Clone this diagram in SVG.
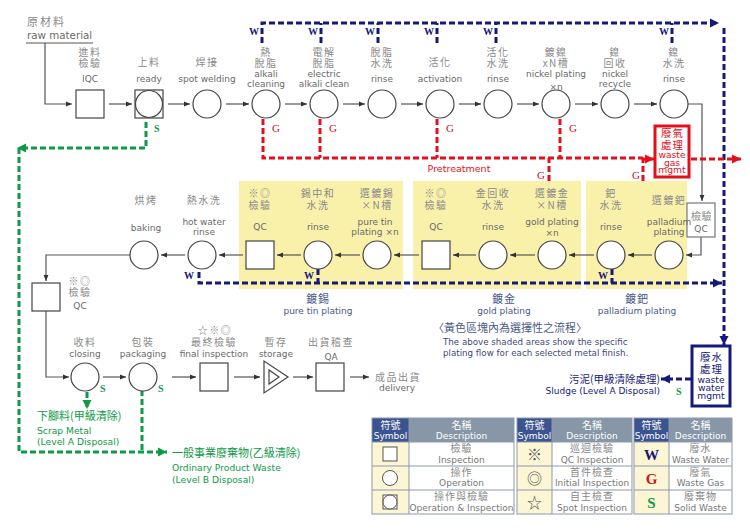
<svg xmlns="http://www.w3.org/2000/svg" width="750" height="531" viewBox="0 0 750 531">
<defs>
<style>
.nd{fill:#fff;stroke:#444;stroke-width:1.2}
.zh{font-family:'Noto Sans CJK TC','Noto Sans CJK SC',sans-serif;font-size:10px;fill:#8a8a8a;text-anchor:middle;letter-spacing:1.5px}
.en{font-family:'DejaVu Sans','Noto Sans CJK TC',sans-serif;font-size:9px;fill:#6a6a6a;text-anchor:middle}
.ln{fill:none;stroke:#555;stroke-width:1.2}
.bw{fill:none;stroke:#15197c;stroke-width:3;stroke-dasharray:6 3}
.rg{fill:none;stroke:#e3101b;stroke-width:3;stroke-dasharray:6 3}
.gs{fill:none;stroke:#0f9a48;stroke-width:3;stroke-dasharray:6 3}
.tw{font-family:'Liberation Serif',serif;font-weight:bold;font-size:10px;fill:#15197c;text-anchor:end}
.tg{font-family:'Liberation Serif',serif;font-size:11px;fill:#d0101b}
.ts{font-family:'Liberation Serif',serif;font-weight:bold;font-size:10px;fill:#0f9a48}
.yl{fill:#f9f1aa}
.gz{font-family:'Noto Sans CJK TC',sans-serif;font-size:11px;fill:#0f9a48}
.ge{font-family:'DejaVu Sans',sans-serif;font-size:9.2px;fill:#0f9a48}
.rz{font-family:'Noto Sans CJK TC',sans-serif;font-size:10.5px;fill:#e3101b;text-anchor:middle;letter-spacing:1px}
.re{font-family:'DejaVu Sans',sans-serif;font-size:9.2px;fill:#e3101b;text-anchor:middle}
.nz{font-family:'Noto Sans CJK TC',sans-serif;font-size:10.5px;fill:#15197c;text-anchor:middle;letter-spacing:1px}
.ne{font-family:'DejaVu Sans',sans-serif;font-size:9.2px;fill:#15197c;text-anchor:middle}
.sz{font-family:'Noto Sans CJK TC',sans-serif;font-size:11px;fill:#4a5a88;text-anchor:middle;letter-spacing:1px}
.se{font-family:'DejaVu Sans',sans-serif;font-size:9px;fill:#4a5a88;text-anchor:middle}
.th{fill:#3b5390}
.td{fill:#8797a8}
.tsy{fill:#fcf6d5}
.tb{fill:none;stroke:#8c99ab;stroke-width:1}
.hz{font-family:'Noto Sans CJK TC',sans-serif;font-size:10px;fill:#fff;text-anchor:middle}
.he{font-family:'DejaVu Sans',sans-serif;font-size:9px;fill:#fff;text-anchor:middle}
.lz{font-family:'Noto Sans CJK TC',sans-serif;font-size:10px;fill:#888;text-anchor:middle;letter-spacing:1px}
.le{font-family:'DejaVu Sans',sans-serif;font-size:9px;fill:#777;text-anchor:middle}
</style>
<marker id="ar" markerWidth="6" markerHeight="6" refX="6" refY="3" orient="auto" markerUnits="userSpaceOnUse"><path d="M0,0.6 L6,3 L0,5.4Z" fill="#333"/></marker>
<marker id="ab" markerWidth="9" markerHeight="10" refX="9" refY="5" orient="auto" markerUnits="userSpaceOnUse"><path d="M0,0.5 L9,5 L0,9.5Z" fill="#15197c"/></marker>
<marker id="arr" markerWidth="9" markerHeight="10" refX="9" refY="5" orient="auto" markerUnits="userSpaceOnUse"><path d="M0,0.5 L9,5 L0,9.5Z" fill="#e3101b"/></marker>
<marker id="ag" markerWidth="9" markerHeight="10" refX="9" refY="5" orient="auto" markerUnits="userSpaceOnUse"><path d="M0,0.5 L9,5 L0,9.5Z" fill="#0f9a48"/></marker>
</defs>
<rect width="750" height="531" fill="#fff"/>

<!-- yellow shaded areas -->
<rect class="yl" x="239" y="181" width="164" height="108"/>
<rect class="yl" x="413" y="181" width="168" height="108"/>
<rect class="yl" x="586" y="181" width="101" height="108"/>

<g id="connectors">
  <path class="ln" d="M26,43 H93"/>
  <path class="ln" d="M45,43 V104 H72" marker-end="url(#ar)"/>
  <path class="ln" d="M109,104 H132" marker-end="url(#ar)"/>
  <path class="ln" d="M168,104 H190" marker-end="url(#ar)"/>
  <path class="ln" d="M226,104 H249" marker-end="url(#ar)"/>
  <path class="ln" d="M285,104 H307" marker-end="url(#ar)"/>
  <path class="ln" d="M343,104 H365" marker-end="url(#ar)"/>
  <path class="ln" d="M401,104 H423" marker-end="url(#ar)"/>
  <path class="ln" d="M459,104 H481" marker-end="url(#ar)"/>
  <path class="ln" d="M517,104 H539" marker-end="url(#ar)"/>
  <path class="ln" d="M575,104 H598" marker-end="url(#ar)"/>
  <path class="ln" d="M634,104 H657" marker-end="url(#ar)"/>
  <path class="ln" d="M688,104 H702 V201" marker-end="url(#ar)"/>
  <path class="ln" d="M701,237 V255 H686" marker-end="url(#ar)"/>
  <path class="ln" d="M652,255 H628" marker-end="url(#ar)"/>
  <path class="ln" d="M594,255 H569" marker-end="url(#ar)"/>
  <path class="ln" d="M535,255 H510" marker-end="url(#ar)"/>
  <path class="ln" d="M476,255 H453" marker-end="url(#ar)"/>
  <path class="ln" d="M419,255 H394" marker-end="url(#ar)"/>
  <path class="ln" d="M360,255 H335" marker-end="url(#ar)"/>
  <path class="ln" d="M301,255 H277" marker-end="url(#ar)"/>
  <path class="ln" d="M243,255 H219" marker-end="url(#ar)"/>
  <path class="ln" d="M185,255 H161" marker-end="url(#ar)"/>
  <path class="ln" d="M130,255 H46 V281" marker-end="url(#ar)"/>
  <path class="ln" d="M46,311 V377 H69" marker-end="url(#ar)"/>
  <path class="ln" d="M103,377 H126" marker-end="url(#ar)"/>
  <path class="ln" d="M172,377 H196" marker-end="url(#ar)"/>
  <path class="ln" d="M234,377 H260" marker-end="url(#ar)"/>
  <path class="ln" d="M293,377 H313" marker-end="url(#ar)"/>
  <path class="ln" d="M350,377 H369" marker-end="url(#ar)"/>

  <path class="bw" d="M262,43 V23 H719" marker-end="url(#ab)"/>
  <path class="bw" d="M321,43 V23"/>
  <path class="bw" d="M378,43 V23"/>
  <path class="bw" d="M437,43 V23"/>
  <path class="bw" d="M496,43 V23"/>
  <path class="bw" d="M672,43 V23"/>
  <path class="bw" d="M724,28 V345" marker-end="url(#ab)"/>
  <path class="bw" d="M199,272 V283 H722" marker-end="url(#ab)"/>
  <path class="bw" d="M318,269 V283"/>
  <path class="bw" d="M612,269 V283"/>
  <path class="bw" d="M691,379 H661" marker-end="url(#ab)"/>

  <path class="rg" d="M263,119 V158 H643"/>
  <path class="rg" d="M320,119 V158"/>
  <path class="rg" d="M437,119 V158"/>
  <path class="rg" d="M560,119 V158"/>
  <path class="rg" d="M549,181 V158"/>
  <path class="rg" d="M643,181 V159 H654" marker-end="url(#arr)"/>
  <path class="rg" d="M691,159 H741" marker-end="url(#arr)"/>

  <path class="gs" d="M146,122 V148 H19 V452 H167" marker-end="url(#ag)"/>
  <path d="M17,148 L26,143.5 L26,152.5Z" fill="#0f9a48"/>
  <path class="gs" d="M87,392 V409" marker-end="url(#ag)"/>
  <path class="gs" d="M142,381 V452"/>
</g>

<g id="marks">
  <text class="tw" x="259" y="35">W</text>
  <text class="tw" x="318" y="35">W</text>
  <text class="tw" x="375" y="35">W</text>
  <text class="tw" x="434" y="35">W</text>
  <text class="tw" x="493" y="35">W</text>
  <text class="tw" x="669" y="35">W</text>
  <text class="tw" x="194" y="279">W</text>
  <text class="tw" x="314" y="279">W</text>
  <text class="tw" x="608" y="279">W</text>
  <text class="tg" x="272" y="132">G</text>
  <text class="tg" x="329" y="132">G</text>
  <text class="tg" x="446" y="132">G</text>
  <text class="tg" x="569" y="132">G</text>
  <text class="tg" x="537" y="179">G</text>
  <text class="tg" x="632" y="179">G</text>
  <text class="ts" x="154" y="132">S</text>
  <text class="ts" x="100" y="392">S</text>
  <text class="ts" x="158" y="392">S</text>
  <text class="ts" x="676" y="395">S</text>
  <text x="459" y="172" font-family="DejaVu Sans, sans-serif" font-size="9.5" fill="#e3101b" text-anchor="middle">Pretreatment</text>
</g>

<g id="raw">
  <text x="27" y="26" font-family="'Noto Sans CJK TC', sans-serif" font-size="11" fill="#8a8a8a" letter-spacing="2">原材料</text>
  <text x="27" y="38.5" font-family="DejaVu Sans, sans-serif" font-size="10.3" fill="#6a6a6a">raw material</text>
</g>

<g id="n-iqc"><rect class="nd" x="76" y="90" width="28" height="28"/>
  <text class="zh" x="90" y="56">進料</text><text class="zh" x="90" y="67">檢驗</text><text class="en" x="90" y="82">IQC</text></g>
<g id="n-ready"><rect class="nd" x="135" y="90" width="28" height="28"/><circle class="nd" cx="149" cy="104" r="13.5"/>
  <text class="zh" x="149" y="66">上料</text><text class="en" x="149" y="82">ready</text></g>
<g id="n-weld"><circle class="nd" cx="207" cy="104" r="14"/>
  <text class="zh" x="207" y="66">焊接</text><text class="en" x="207" y="82">spot welding</text></g>
<g id="n-alkali"><circle class="nd" cx="266" cy="104" r="14"/>
  <text class="zh" x="266" y="56">熱</text><text class="zh" x="266" y="67">脫脂</text><text class="en" x="266" y="77">alkali</text><text class="en" x="266" y="87">cleaning</text></g>
<g id="n-elec"><circle class="nd" cx="324" cy="104" r="14"/>
  <text class="zh" x="324" y="56">電解</text><text class="zh" x="324" y="67">脫脂</text><text class="en" x="324" y="77">electric</text><text class="en" x="324" y="87">alkali clean</text></g>
<g id="n-rinse1"><circle class="nd" cx="382" cy="104" r="14"/>
  <text class="zh" x="382" y="56">脫脂</text><text class="zh" x="382" y="67">水洗</text><text class="en" x="382" y="82">rinse</text></g>
<g id="n-act"><circle class="nd" cx="440" cy="104" r="14"/>
  <text class="zh" x="440" y="66">活化</text><text class="en" x="440" y="82">activation</text></g>
<g id="n-rinse2"><circle class="nd" cx="498" cy="104" r="14"/>
  <text class="zh" x="498" y="56">活化</text><text class="zh" x="498" y="67">水洗</text><text class="en" x="498" y="82">rinse</text></g>
<g id="n-ni"><circle class="nd" cx="556" cy="104" r="14"/>
  <text class="zh" x="556" y="56">鍍鎳</text><text class="zh" x="556" y="67">xN槽</text><text class="en" x="556" y="77">nickel plating</text><text class="en" x="556" y="90">×n</text></g>
<g id="n-nirec"><circle class="nd" cx="615" cy="104" r="14"/>
  <text class="zh" x="615" y="56">鎳</text><text class="zh" x="615" y="67">回收</text><text class="en" x="615" y="77">nickel</text><text class="en" x="615" y="87">recycle</text></g>
<g id="n-nirinse"><circle class="nd" cx="674" cy="104" r="14"/>
  <text class="zh" x="674" y="56">鎳</text><text class="zh" x="674" y="67">水洗</text><text class="en" x="674" y="82">rinse</text></g>

<g id="n-gas"><rect x="655" y="126" width="34" height="51" fill="#fff" stroke="#e3101b" stroke-width="3"/>
  <text class="rz" x="672.5" y="137">廢氣</text><text class="rz" x="672.5" y="149">處理</text>
  <text class="re" x="672" y="157.5">waste</text><text class="re" x="672" y="165.5">gas</text><text class="re" x="672" y="173">mgmt</text></g>

<g id="n-qc-right"><rect x="687" y="203" width="28" height="34" fill="#fff" stroke="#777" stroke-width="1.2"/>
  <text class="zh" x="701.5" y="220" style="letter-spacing:0.5px">檢驗</text><text class="en" x="701" y="231.5">QC</text></g>

<g id="n-pd"><circle class="nd" cx="669" cy="255" r="14"/>
  <text class="zh" x="669" y="204">選鍍鈀</text><text class="en" x="669" y="224.5">palladium</text><text class="en" x="669" y="234.5">plating</text></g>
<g id="n-pdrinse"><circle class="nd" cx="611" cy="255" r="14"/>
  <text class="zh" x="611" y="197">鈀</text><text class="zh" x="611" y="209">水洗</text><text class="en" x="611" y="230">rinse</text></g>
<g id="n-au"><circle class="nd" cx="552" cy="255" r="14"/>
  <text class="zh" x="552" y="197">選鍍金</text><text class="zh" x="552" y="209">×N槽</text><text class="en" x="552" y="224.5">gold plating</text><text class="en" x="552" y="235.5">×n</text></g>
<g id="n-aurinse"><circle class="nd" cx="493" cy="255" r="14"/>
  <text class="zh" x="493" y="197">金回收</text><text class="zh" x="493" y="209">水洗</text><text class="en" x="493" y="230">rinse</text></g>
<g id="n-auqc"><rect class="nd" x="422" y="241" width="28" height="28"/>
  <text class="zh" x="436" y="197">※◎</text><text class="zh" x="436" y="209">檢驗</text><text class="en" x="436" y="229.5">QC</text></g>
<g id="n-sn"><circle class="nd" cx="377" cy="255" r="14"/>
  <text class="zh" x="377" y="197">選鍍錫</text><text class="zh" x="377" y="209">×N槽</text><text class="en" x="375" y="224.5">pure tin</text><text class="en" x="375" y="234.5">plating ×n</text></g>
<g id="n-snrinse"><circle class="nd" cx="318" cy="255" r="14"/>
  <text class="zh" x="318" y="197">錫中和</text><text class="zh" x="318" y="209">水洗</text><text class="en" x="318" y="230">rinse</text></g>
<g id="n-snqc"><rect class="nd" x="246" y="241" width="28" height="28"/>
  <text class="zh" x="260" y="197">※◎</text><text class="zh" x="260" y="209">檢驗</text><text class="en" x="260" y="229.5">QC</text></g>
<g id="n-hot"><circle class="nd" cx="202" cy="255" r="14"/>
  <text class="zh" x="204" y="204">熱水洗</text><text class="en" x="204" y="224.5">hot water</text><text class="en" x="204" y="234.5">rinse</text></g>
<g id="n-bake"><circle class="nd" cx="144" cy="255" r="14"/>
  <text class="zh" x="146" y="204">烘烤</text><text class="en" x="146" y="231">baking</text></g>

<g id="plating-labels">
  <text class="sz" x="318" y="303">鍍錫</text><text class="se" x="318" y="314">pure tin plating</text>
  <text class="sz" x="504" y="303">鍍金</text><text class="se" x="504" y="314">gold plating</text>
  <text class="sz" x="637" y="303">鍍鈀</text><text class="se" x="637" y="314">palladium plating</text>
  <text x="433" y="332" font-family="'Noto Sans CJK TC', sans-serif" font-size="11" fill="#4a5a88">〈黃色區塊內為選擇性之流程〉</text>
  <text x="443" y="345" font-family="DejaVu Sans, sans-serif" font-size="8.7" fill="#3e4a78">The above shaded areas show the specific</text>
  <text x="443" y="356" font-family="DejaVu Sans, sans-serif" font-size="8.7" fill="#3e4a78">plating flow for each selected metal finish.</text>
</g>

<g id="n-qc-left"><rect class="nd" x="32" y="283" width="28" height="28"/>
  <text class="zh" x="80" y="285">※◎</text><text class="zh" x="80" y="296">檢驗</text><text class="en" x="80" y="309">QC</text></g>

<g id="n-close"><circle class="nd" cx="85" cy="377" r="14"/>
  <text class="zh" x="85" y="346">收料</text><text class="en" x="85" y="356.5">closing</text></g>
<g id="n-pack"><circle class="nd" cx="143" cy="377" r="14"/>
  <text class="zh" x="143" y="346">包裝</text><text class="en" x="143" y="356.5">packaging</text></g>
<g id="n-final"><rect class="nd" x="200" y="363" width="28" height="28"/>
  <text class="zh" x="215" y="334">☆※◎</text><text class="zh" x="214" y="346">最終檢驗</text><text class="en" x="214" y="356.5">final inspection</text></g>
<g id="n-storage"><path class="nd" d="M264,361 L264,393 L288,377Z"/><path class="nd" d="M269,370 L269,384 L279,377Z"/>
  <text class="zh" x="276" y="346">暫存</text><text class="en" x="276" y="356.5">storage</text></g>
<g id="n-qa"><rect class="nd" x="316" y="363" width="28" height="28"/>
  <text class="zh" x="331" y="346">出貨稽查</text><text class="en" x="331" y="359.5">QA</text></g>
<g id="n-delivery">
  <text class="zh" x="398" y="381">成品出貨</text><text class="en" x="397" y="391">delivery</text></g>

<g id="n-water"><rect x="692" y="346" width="38" height="60" fill="#fff" stroke="#15197c" stroke-width="3"/>
  <text class="nz" x="711.5" y="361">廢水</text><text class="nz" x="711.5" y="373">處理</text>
  <text class="ne" x="711" y="383">waste</text><text class="ne" x="711" y="391">water</text><text class="ne" x="711" y="399">mgmt</text></g>

<g id="waste-labels">
  <text class="gz" x="37" y="420">下腳料(甲級清除)</text>
  <text class="ge" x="37" y="434">Scrap Metal</text>
  <text class="ge" x="37" y="444.5">(Level A Disposal)</text>
  <text class="gz" x="172" y="457">一般事業廢棄物(乙級清除)</text>
  <text class="ge" x="172" y="471">Ordinary Product Waste</text>
  <text class="ge" x="172" y="482.5">(Level B Disposal)</text>
  <text x="660" y="383" font-family="'Noto Sans CJK TC', sans-serif" font-size="10.5" fill="#15197c" text-anchor="end">污泥(甲級清除處理)</text>
  <text x="660" y="394" font-family="DejaVu Sans, sans-serif" font-size="9" fill="#15197c" text-anchor="end">Sludge (Level A Disposal)</text>
</g>

<g id="legend1">
  <rect class="th" x="372" y="418" width="37" height="24"/><rect class="td" x="409" y="418" width="105" height="24"/>
  <rect class="tsy" x="372" y="442" width="37" height="72"/><rect fill="#fff" x="409" y="442" width="105" height="72"/>
  <path class="tb" d="M372,442 H514 M372,466 H514 M372,490 H514 M409,418 V514"/>
  <rect class="tb" x="372" y="418" width="142" height="96"/>
  <text class="hz" x="390.5" y="429">符號</text><text class="he" x="390.5" y="439">Symbol</text>
  <text class="hz" x="461.5" y="429">名稱</text><text class="he" x="461.5" y="439">Description</text>
  <rect x="383" y="447" width="14" height="14" fill="#fff" stroke="#555" stroke-width="1"/>
  <circle cx="390" cy="478" r="7.5" fill="#fff" stroke="#555" stroke-width="1"/>
  <rect x="383" y="495" width="14" height="14" fill="#fff" stroke="#555" stroke-width="1"/><circle cx="390" cy="502" r="7" fill="#fff" stroke="#555" stroke-width="1"/>
  <text class="lz" x="461.5" y="452">檢驗</text><text class="le" x="461.5" y="462.5">Inspection</text>
  <text class="lz" x="461.5" y="476">操作</text><text class="le" x="461.5" y="486">Operation</text>
  <text class="lz" x="461.5" y="500">操作與檢驗</text><text class="le" x="461.5" y="510.5">Operation &amp; Inspection</text>
</g>
<g id="legend2">
  <rect class="th" x="517" y="418" width="35" height="24"/><rect class="td" x="552" y="418" width="80" height="24"/>
  <rect class="tsy" x="517" y="442" width="35" height="72"/><rect fill="#fff" x="552" y="442" width="80" height="72"/>
  <path class="tb" d="M517,442 H632 M517,466 H632 M517,490 H632 M552,418 V514"/>
  <rect class="tb" x="517" y="418" width="115" height="96"/>
  <text class="hz" x="534.5" y="429">符號</text><text class="he" x="534.5" y="439">Symbol</text>
  <text class="hz" x="592" y="429">名稱</text><text class="he" x="592" y="439">Description</text>
  <text x="534.5" y="460" font-family="'Noto Sans CJK TC', sans-serif" font-size="15" fill="#555" text-anchor="middle">※</text>
  <text x="534.5" y="484" font-family="'Noto Sans CJK TC', sans-serif" font-size="15" fill="#555" text-anchor="middle">◎</text>
  <text x="534.5" y="508" font-family="'Noto Sans CJK TC', sans-serif" font-size="15" fill="#555" text-anchor="middle">☆</text>
  <text class="lz" x="592" y="452">巡迴檢驗</text><text class="le" x="592" y="462.5">QC Inspection</text>
  <text class="lz" x="592" y="476">首件檢查</text><text class="le" x="592" y="486">Initial Inspection</text>
  <text class="lz" x="592" y="500">自主檢查</text><text class="le" x="592" y="510.5">Spot Inspection</text>
</g>
<g id="legend3">
  <rect class="th" x="634" y="418" width="35" height="24"/><rect class="td" x="669" y="418" width="63" height="24"/>
  <rect class="tsy" x="634" y="442" width="35" height="72"/><rect fill="#fff" x="669" y="442" width="63" height="72"/>
  <path class="tb" d="M634,442 H732 M634,466 H732 M634,490 H732 M669,418 V514"/>
  <rect class="tb" x="634" y="418" width="98" height="96"/>
  <text class="hz" x="651.5" y="429">符號</text><text class="he" x="651.5" y="439">Symbol</text>
  <text class="hz" x="700.5" y="429">名稱</text><text class="he" x="700.5" y="439">Description</text>
  <text x="651.5" y="460" font-family="'Liberation Serif', serif" font-weight="bold" font-size="15" fill="#15197c" text-anchor="middle">W</text>
  <text x="651.5" y="484" font-family="'Liberation Serif', serif" font-weight="bold" font-size="15" fill="#d0101b" text-anchor="middle">G</text>
  <text x="651.5" y="508" font-family="'Liberation Serif', serif" font-weight="bold" font-size="15" fill="#0f9a48" text-anchor="middle">S</text>
  <text class="lz" x="700.5" y="452">廢水</text><text class="le" x="700.5" y="462.5">Waste Water</text>
  <text class="lz" x="700.5" y="476">廢氣</text><text class="le" x="700.5" y="486">Waste Gas</text>
  <text class="lz" x="700.5" y="500">廢棄物</text><text class="le" x="700.5" y="510.5">Solid Waste</text>
</g>
</svg>
